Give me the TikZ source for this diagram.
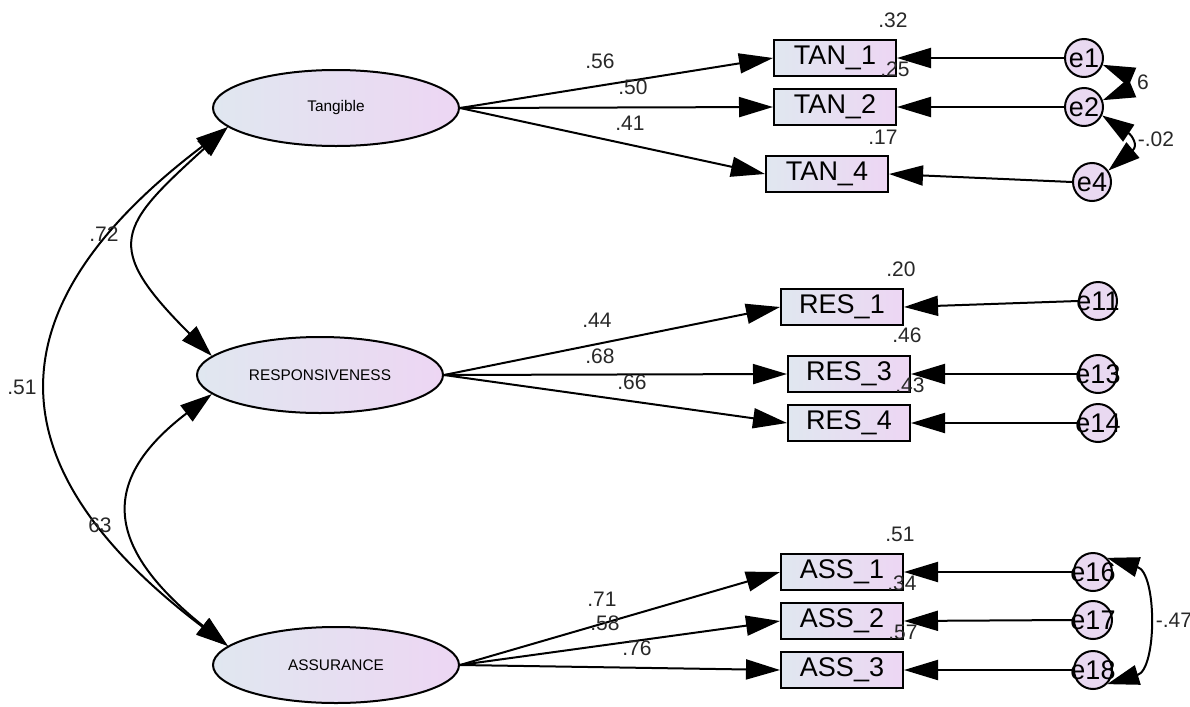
\documentclass[tikz,border=0pt]{standalone}
\usepackage{fontspec}
\setmainfont{Liberation Sans}
\usetikzlibrary{shapes.geometric,arrows.meta}

\definecolor{fillleft}{RGB}{224,231,240}
\definecolor{fillright}{RGB}{237,214,243}
\definecolor{errfill}{RGB}{233,217,241}
\definecolor{coeftext}{RGB}{40,40,40}

\tikzset{every picture/.style={line width=1pt}}
\tikzset{
latent/.style={ellipse, draw, minimum width=123pt, minimum height=38pt, inner sep=0pt,
  left color=fillleft, right color=fillright, font=\fontsize{7.7}{9}\selectfont},
observed/.style={rectangle, draw, minimum width=61pt, minimum height=18pt, inner sep=0pt,
  left color=fillleft, right color=fillright, font=\fontsize{13.5}{15}\selectfont},
errnode/.style={circle, draw, minimum size=19pt, inner sep=0pt, fill=errfill,
  font=\fontsize{13.5}{15}\selectfont},
coef/.style={inner sep=0.75pt, text=coeftext, font=\fontsize{10.5}{12}\selectfont},
loading/.style={-{Triangle[length=17pt,width=10pt]}},
twoway/.style={{Triangle[length=16pt,width=10pt]}-{Triangle[length=16pt,width=10pt]}}
}

\begin{document}
\begin{tikzpicture}[x=0.5pt,y=0.5pt,yscale=-1,xscale=1]
\path[use as bounding box] (0,0) rectangle (1190,707);

% Latent factors
\node [latent] (tan) at (336,108) {Tangible};
\node [latent] (res) at (320,375) {RESPONSIVENESS};
\node [latent] (ass) at (336,665) {ASSURANCE};

% Observed items
\node [observed] (tan1) at (835,58) {TAN\_1};
\node [observed] (tan2) at (835,107) {TAN\_2};
\node [observed] (tan4) at (827,174) {TAN\_4};
\node [observed] (res1) at (842,307) {RES\_1};
\node [observed] (res3) at (849,374) {RES\_3};
\node [observed] (res4) at (849,423) {RES\_4};
\node [observed] (ass1) at (842,572) {ASS\_1};
\node [observed] (ass2) at (842,621) {ASS\_2};
\node [observed] (ass3) at (842,670) {ASS\_3};

% Error terms
\node [errnode] (e1) at (1084,58) {\makebox[0pt]{e1}};
\node [errnode] (e2) at (1084,107) {\makebox[0pt]{e2}};
\node [errnode] (e4) at (1092,182) {\makebox[0pt]{e4}};
\node [errnode] (e11) at (1098,301) {\makebox[0pt]{e11}};
\node [errnode] (e13) at (1098,374) {\makebox[0pt]{e13}};
\node [errnode] (e14) at (1098,423) {\makebox[0pt]{e14}};
\node [errnode] (e16) at (1093,572) {\makebox[0pt]{e16}};
\node [errnode] (e17) at (1093,620) {\makebox[0pt]{e17}};
\node [errnode] (e18) at (1093,670) {\makebox[0pt]{e18}};

% Loadings
\draw [loading] (tan.east) -- (tan1.west);
\draw [loading] (tan.east) -- (tan2.west);
\draw [loading] (tan.east) -- (tan4.west);
\draw [loading] (res.east) -- (res1.west);
\draw [loading] (res.east) -- (res3.west);
\draw [loading] (res.east) -- (res4.west);
\draw [loading] (ass.east) -- (ass1.west);
\draw [loading] (ass.east) -- (ass2.west);
\draw [loading] (ass.east) -- (ass3.west);

% Error paths
\draw [loading] (e1.west) -- (tan1.east);
\draw [loading] (e2.west) -- (tan2.east);
\draw [loading] (e4.west) -- (tan4.east);
\draw [loading] (e11.west) -- (res1.east);
\draw [loading] (e13.west) -- (res3.east);
\draw [loading] (e14.west) -- (res4.east);
\draw [loading] (e16.west) -- (ass1.east);
\draw [loading] (e17.west) -- (ass2.east);
\draw [loading] (e18.west) -- (ass3.east);

% Factor covariances
\draw [twoway] (tan.190) .. controls +(-110,100) and +(-110,-110) .. (res.170);
\draw [twoway] (tan.190) .. controls +(-238,180) and +(-238,-180) .. (ass.170);
\draw [twoway] (res.190) .. controls +(-118,90) and +(-118,-95) .. (ass.170);

% Error covariances
\draw [twoway] (e1.-20) .. controls +(24,10) and +(24,-10) .. (e2.20);
\draw [twoway] (e2.-25) .. controls +(30,20) and +(30,-25) .. (e4.35);
\draw [twoway] (e16.45) .. controls +(50,15) and +(50,-15) .. (e18.-45);

% Text Node
\node [coef] at (600,61) {.56};
\node [coef] at (633,87) {.50};
\node [coef] at (630,123) {.41};
\node [coef] at (597,320) {.44};
\node [coef] at (600,356) {.68};
\node [coef] at (632,382) {.66};
\node [coef] at (602,599) {.71};
\node [coef] at (605,623) {.58};
\node [coef] at (637,648) {.76};
% Text Node
\node [coef] at (893,20) {.32};
\node [coef] at (895,69) {.25};
\node [coef] at (883,137) {.17};
\node [coef] at (901,269) {.20};
\node [coef] at (907,335) {.46};
\node [coef] at (910,385) {.43};
\node [coef] at (900,534) {.51};
\node [coef] at (902,583) {.34};
\node [coef] at (903,632) {.57};
% Text Node
\node [coef] at (104,234) {.72};
\node [coef] at (22,387) {.51};
\node [coef] at (100,525) {63};
\node [coef] at (1143,82) {6};
\node [coef] at (1156,139) {-.02};
\node [coef] at (1174,620) {-.47};

\end{tikzpicture}
\end{document}
